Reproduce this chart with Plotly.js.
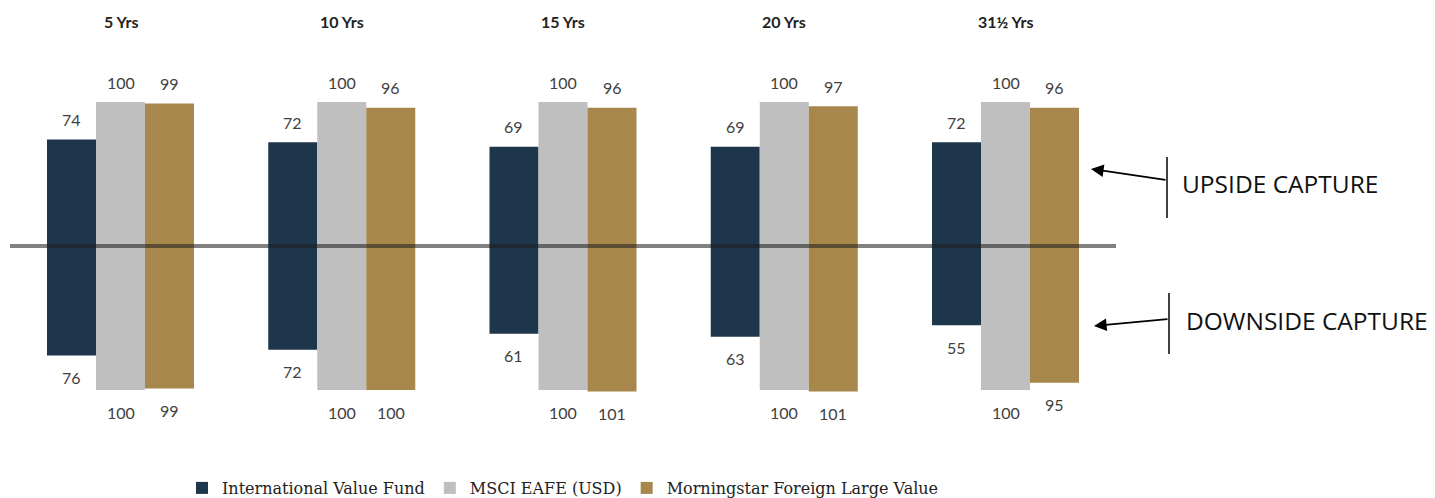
<!DOCTYPE html>
<html>
<head>
<meta charset="utf-8">
<script src="https://cdn.plot.ly/plotly-3.0.1.min.js"></script>
<style>html,body{margin:0;padding:0;background:#fff;}#chart{width:1435px;height:498px;}</style>
</head>
<body>
<div id="chart"></div>
<script>
const periods = ["5 Yrs", "10 Yrs", "15 Yrs", "20 Yrs", "31½ Yrs"];
const seriesNames = ["International Value Fund", "MSCI EAFE (USD)", "Morningstar Foreign Large Value"];
const upsideFund = [74, 72, 69, 69, 72];
const upsideIndex = [100, 100, 100, 100, 100];
const upsideCategory = [99, 96, 96, 97, 96];
const downsideFund = [76, 72, 61, 63, 55];
const downsideIndex = [100, 100, 100, 100, 100];
const downsideCategory = [99, 100, 101, 101, 95];

const colors = ["#1D364C", "#BFBFBF", "#A8874D"];
const upside = [upsideFund, upsideIndex, upsideCategory];
const downside = [downsideFund, downsideIndex, downsideCategory];
const barW = 0.2215;
const offsets = [-1.5 * barW, -0.5 * barW, 0.5 * barW];
const xpos = periods.map((p, i) => i);

const W = 1435, H = 498;
const px = p => p / W;
const py = p => 1 - p / H;

const traces = [];
for (let s = 0; s < 3; s++) {
  traces.push({
    type: "bar", x: xpos, y: upside[s], name: seriesNames[s], legendgroup: "g" + s,
    width: barW, offset: offsets[s], marker: {color: colors[s], line: {width: 0}},
    hoverinfo: "skip"
  });
}
for (let s = 0; s < 3; s++) {
  traces.push({
    type: "bar", x: xpos, y: downside[s].map(v => -v), name: seriesNames[s], legendgroup: "g" + s,
    showlegend: false, width: barW, offset: offsets[s], marker: {color: colors[s], line: {width: 0}},
    hoverinfo: "skip"
  });
}

const annotations = [];
const labelFont = {family: "Lato, 'Open Sans', sans-serif", size: 16, color: "#404040"};
for (let s = 0; s < 3; s++) {
  for (let i = 0; i < periods.length; i++) {
    const xc = xpos[i] + offsets[s] + barW / 2;
    annotations.push({x: xc, y: upside[s][i], xref: "x", yref: "y", text: String(upside[s][i]),
      showarrow: false, yanchor: "middle", yshift: 20, font: labelFont});
    annotations.push({x: xc, y: -downside[s][i], xref: "x", yref: "y", text: String(downside[s][i]),
      showarrow: false, yanchor: "middle", yshift: -22, font: labelFont});
  }
}
periods.forEach((p, i) => {
  annotations.push({x: xpos[i], y: py(22), xref: "x", yref: "paper", text: "<b>" + p + "</b>",
    showarrow: false, yanchor: "middle", font: {family: "Lato, 'Open Sans', sans-serif", size: 16, color: "#222"}});
});
const sideFont = {family: "'Open Sans', sans-serif", size: 24.5, color: "#111"};
annotations.push({x: px(1180), y: py(184), xref: "paper", yref: "paper", text: "UPSIDE CAPTURE",
  showarrow: false, xanchor: "left", yanchor: "middle", font: sideFont});
annotations.push({x: px(1184), y: py(320), xref: "paper", yref: "paper", text: "DOWNSIDE CAPTURE",
  showarrow: false, xanchor: "left", yanchor: "middle", font: sideFont});
annotations.push({x: px(1091), y: py(169), xref: "paper", yref: "paper", text: "",
  showarrow: true, ax: 76, ay: 11, axref: "pixel", ayref: "pixel", arrowhead: 2, arrowsize: 1.4, arrowwidth: 1.8, arrowcolor: "#000"});
annotations.push({x: px(1094), y: py(326), xref: "paper", yref: "paper", text: "",
  showarrow: true, ax: 75, ay: -7, axref: "pixel", ayref: "pixel", arrowhead: 2, arrowsize: 1.4, arrowwidth: 1.8, arrowcolor: "#000"});

const shapes = [
  {type: "line", xref: "paper", yref: "y", x0: px(10), x1: px(1116), y0: 0, y1: 0,
    line: {color: "rgba(30,30,30,0.56)", width: 4}, layer: "above"},
  {type: "line", xref: "paper", yref: "paper", x0: px(1167), x1: px(1167), y0: py(157), y1: py(218),
    line: {color: "#000", width: 1.5}},
  {type: "line", xref: "paper", yref: "paper", x0: px(1169), x1: px(1169), y0: py(293), y1: py(354),
    line: {color: "#000", width: 1.5}}
];

const layout = {
  width: W, height: H,
  margin: {l: 0, r: 0, t: 0, b: 0, autoexpand: false},
  paper_bgcolor: "#fff", plot_bgcolor: "#fff",
  barmode: "overlay",
  xaxis: {range: [-120.5 / 221.25, (W - 120.5) / 221.25], visible: false, fixedrange: true},
  yaxis: {range: [-(H - 246) / 1.44, 246 / 1.44], visible: false, fixedrange: true},
  showlegend: true,
  legend: {orientation: "h", x: px(182), xanchor: "left", y: py(488), yanchor: "middle",
    font: {family: "'DejaVu Serif', 'Liberation Serif', serif", size: 16, color: "#222"},
    traceorder: "normal", bgcolor: "rgba(0,0,0,0)", itemclick: false},
  annotations: annotations,
  shapes: shapes
};

Plotly.newPlot("chart", traces, layout, {displayModeBar: false, staticPlot: true});
</script>
</body>
</html>
